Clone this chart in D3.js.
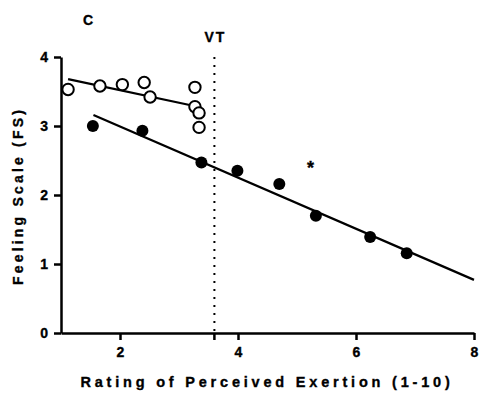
<!DOCTYPE html>
<html>
<head>
<meta charset="utf-8">
<script src="https://cdn.jsdelivr.net/npm/d3@7"></script>
<style>
  body { margin: 0; background: #fff; }
  text { font-family: "Liberation Sans", Arial, sans-serif; font-weight: bold; fill: #000; stroke: #000; stroke-width: 0.35px; }
</style>
</head>
<body>
<svg id="chart" width="480" height="405"></svg>
<script>

// below VT (open circles)
const openRPE = [1.12, 1.66, 2.04, 2.41, 2.51, 3.27, 3.27, 3.34, 3.34]
const openFS  = [3.53, 3.58, 3.60, 3.63, 3.42, 3.56, 3.28, 3.19, 2.98]
const openFit = [[1.12, 3.68], [3.26, 3.29]]

// filled circles
const fillRPE = [1.54, 2.38, 3.38, 3.99, 4.70, 5.32, 6.24, 6.86]
const fillFS  = [3.00, 2.93, 2.47, 2.35, 2.16, 1.70, 1.39, 1.155]
const fillFit = [[1.55, 3.16], [8.0, 0.77]]

const vtValue = 3.6
const xTicks = [2, 4, 6, 8]
const yTicks = [0, 1, 2, 3, 4]

const svg = d3.select("#chart")

const x = d3.scaleLinear().domain([1, 8]).range([61, 474])
const y = d3.scaleLinear().domain([0, 4]).range([333, 57])

// axes
const xAxis = svg.append("g")
  .attr("transform", "translate(0," + y(0) + ")")
  .call(d3.axisBottom(x).tickValues(xTicks).tickFormat(d3.format("d"))
          .tickSize(7).tickPadding(7).tickSizeOuter(0))
const yAxis = svg.append("g")
  .attr("transform", "translate(" + x(1) + ",0)")
  .call(d3.axisLeft(y).tickValues(yTicks).tickFormat(d3.format("d"))
          .tickSize(7).tickPadding(6).tickSizeOuter(0))

svg.selectAll(".domain").attr("stroke", "#000").attr("stroke-width", 2.5)
svg.selectAll(".tick line").attr("stroke", "#000").attr("stroke-width", 2.5)
svg.selectAll(".tick text")
  .attr("font-size", 14)
  .attr("font-family", "Liberation Sans, Arial, sans-serif")
  .attr("font-weight", "bold")
  .attr("fill", "#000")

// VT line
svg.append("line")
  .attr("x1", x(vtValue)).attr("x2", x(vtValue))
  .attr("y1", y(4)).attr("y2", y(0))
  .attr("stroke", "#000")
  .attr("stroke-width", 2)
  .attr("stroke-dasharray", "2,6")
svg.append("line")
  .attr("x1", x(vtValue)).attr("x2", x(vtValue))
  .attr("y1", y(0)).attr("y2", y(0) + 7)
  .attr("stroke", "#000")
  .attr("stroke-width", 2.5)

// regression lines
const line = d3.line().x(d => x(d[0])).y(d => y(d[1]))
svg.append("path").datum(openFit).attr("d", line)
  .attr("stroke", "#000").attr("stroke-width", 2.2).attr("fill", "none")
svg.append("path").datum(fillFit).attr("d", line)
  .attr("stroke", "#000").attr("stroke-width", 2.2).attr("fill", "none")

// points
svg.append("g").selectAll("circle")
  .data(openRPE)
  .enter().append("circle")
  .attr("cx", d => x(d))
  .attr("cy", (d, i) => y(openFS[i]))
  .attr("r", 5.7)
  .attr("fill", "#fff")
  .attr("stroke", "#000")
  .attr("stroke-width", 2)

svg.append("g").selectAll("circle")
  .data(fillRPE)
  .enter().append("circle")
  .attr("cx", d => x(d))
  .attr("cy", (d, i) => y(fillFS[i]))
  .attr("r", 6)
  .attr("fill", "#000")

// labels
svg.append("text")
  .attr("x", 83).attr("y", 25)
  .attr("font-size", 14)
  .text("C")

svg.append("text")
  .attr("x", x(vtValue) + 1).attr("y", 42)
  .attr("text-anchor", "middle")
  .attr("font-size", 14)
  .attr("letter-spacing", "2px")
  .text("VT")

svg.append("text")
  .attr("x", x(5.23)).attr("y", y(2.43) + 9)
  .attr("text-anchor", "middle")
  .attr("font-size", 18)
  .text("*")

svg.append("text")
  .attr("x", 267).attr("y", 387)
  .attr("text-anchor", "middle")
  .attr("font-size", 14.5)
  .attr("letter-spacing", "3.8px")
  .text("Rating of Perceived Exertion (1-10)")

svg.append("text")
  .attr("transform", "translate(23," + 196 + ") rotate(-90)")
  .attr("text-anchor", "middle")
  .attr("font-size", 14)
  .attr("letter-spacing", "3.2px")
  .text("Feeling Scale (FS)")

</script>
</body>
</html>
